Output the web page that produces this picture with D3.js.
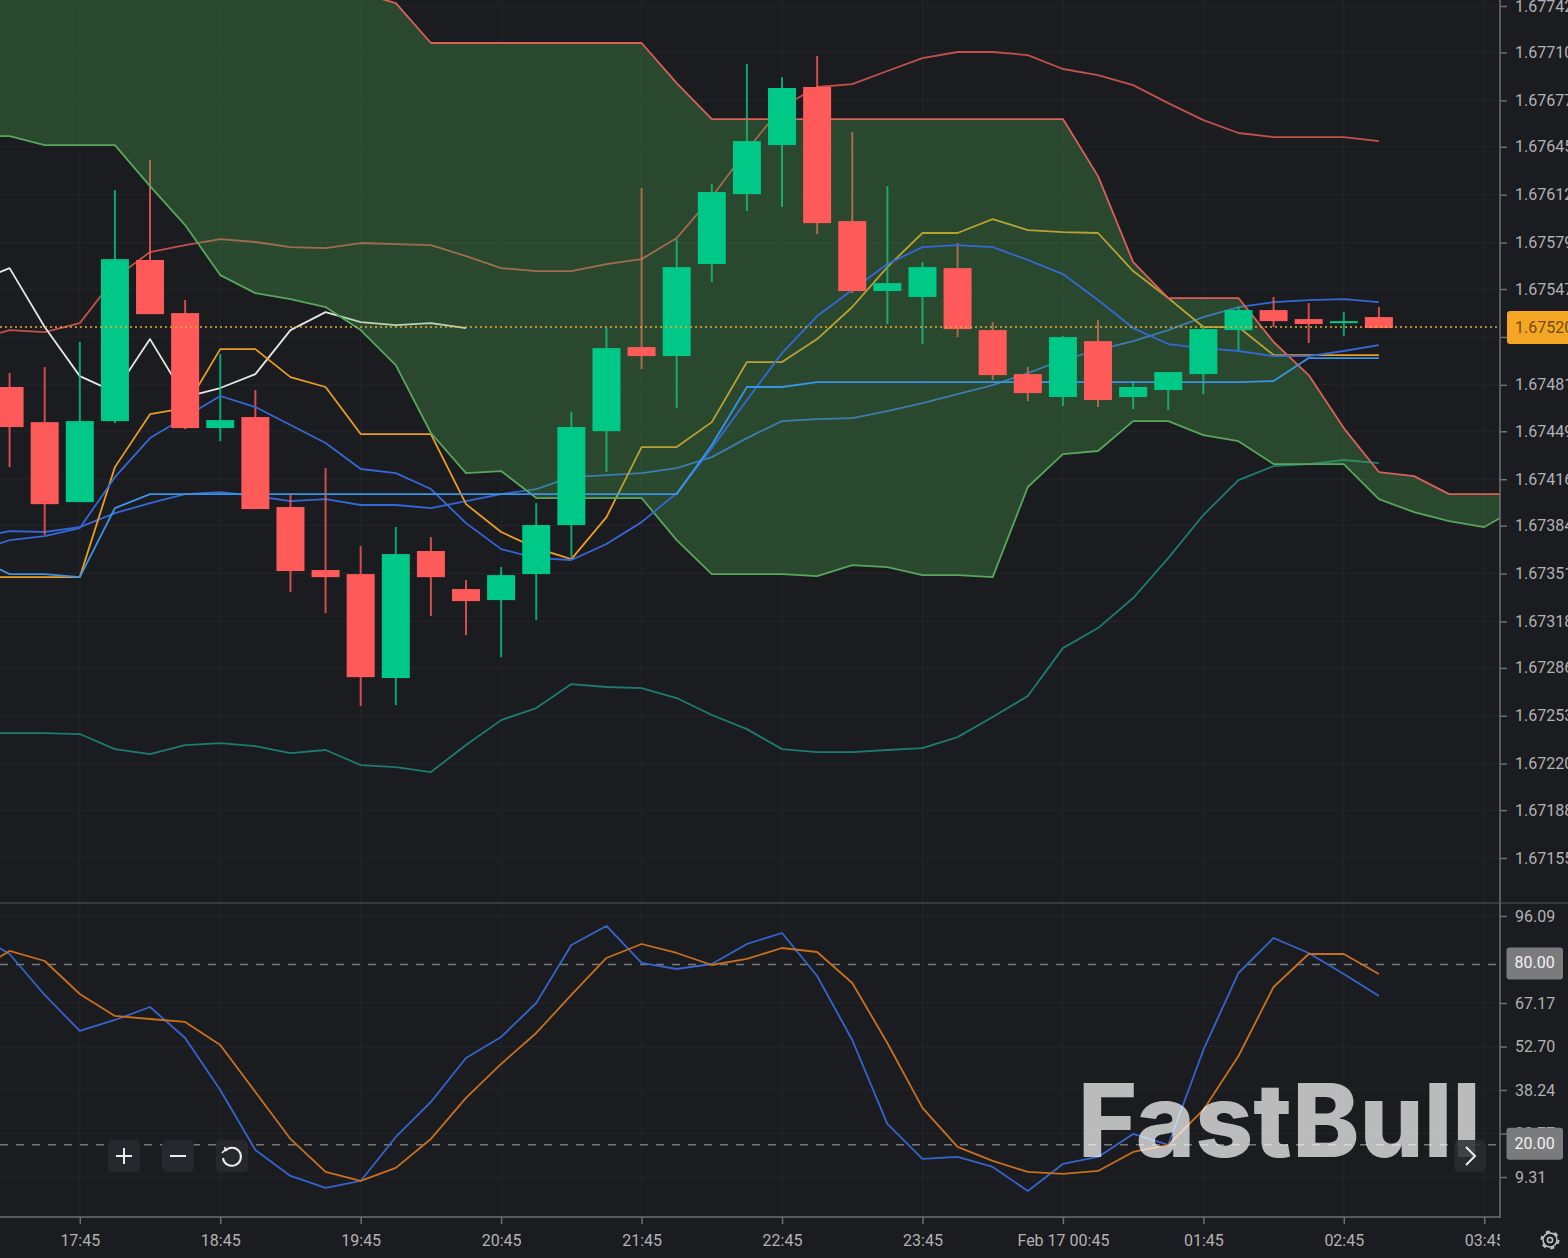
<!DOCTYPE html>
<html>
<head>
<meta charset="utf-8">
<script src="https://cdn.jsdelivr.net/npm/d3@7"></script>
<style>
  html, body { margin: 0; padding: 0; background: #1b1c20; overflow: hidden; }
  svg { display: block; }
  text { font-family: Roboto, "Noto Sans", sans-serif; }
</style>
</head>
<body>
<script>
// 15 minute bars. line series start one bar left of the first visible candle
var firstBar = Date.UTC(2023, 1, 16, 17, 0);
var barMs = 15 * 60 * 1000;

var openPrices = [1.674795,1.674553,1.674002,1.674560,1.675670,1.675304,1.674512,1.674588,1.673968,1.673534,
  1.673506,1.672790,1.673665,1.673403,1.673327,1.673506,1.673844,1.674491,1.675070,1.675008,
  1.675642,1.676124,1.676462,1.676862,1.675938,1.675456,1.675415,1.675614,1.675187,1.674884,
  1.674726,1.675111,1.674726,1.674774,1.674884,1.675187,1.675325,1.675263,1.675235,1.675277];
var closePrices = [1.674519,1.673988,1.674560,1.675676,1.675297,1.674512,1.674567,1.673954,1.673527,1.673485,
  1.672796,1.673644,1.673485,1.673320,1.673499,1.673844,1.674519,1.675063,1.675008,1.675621,
  1.676138,1.676489,1.676855,1.675924,1.675456,1.675511,1.675621,1.675194,1.674877,1.674753,
  1.675139,1.674705,1.674795,1.674898,1.675194,1.675325,1.675249,1.675229,1.675249,1.675201];
var highPrices = [1.674891,1.674932,1.675105,1.676152,1.676359,1.675394,1.675022,1.674774,1.674050,1.674236,
  1.673699,1.673830,1.673761,1.673465,1.673554,1.673995,1.674622,1.675201,1.676166,1.675814,
  1.676193,1.677020,1.676930,1.677075,1.676551,1.676179,1.675656,1.675787,1.675242,1.674932,
  1.675146,1.675256,1.674836,1.674898,1.675208,1.675346,1.675415,1.675373,1.675311,1.675346];
var lowPrices = [1.674243,1.673775,1.674002,1.674546,1.675297,1.674505,1.674422,1.673954,1.673382,1.673237,
  1.672597,1.672603,1.673217,1.673086,1.672934,1.673189,1.673623,1.674209,1.674919,1.674650,
  1.675518,1.676007,1.676035,1.675849,1.675442,1.675229,1.675091,1.675139,1.674843,1.674698,
  1.674664,1.674657,1.674643,1.674636,1.674746,1.675043,1.675208,1.675098,1.675146,1.675201];

var bollUpper = [1.675118,1.675187,1.675173,1.675235,1.675546,1.675725,1.675773,1.675814,1.675794,1.675759,1.675752,
  1.675787,1.675780,1.675773,1.675697,1.675614,1.675594,1.675594,1.675642,1.675676,1.675821,
  1.676104,1.676428,1.676724,1.676862,1.676882,1.676972,1.677061,1.677103,1.677103,1.677082,
  1.676986,1.676944,1.676875,1.676751,1.676634,1.676545,1.676517,1.676517,1.676517,1.676489];
var bollLower = [1.672411,1.672411,1.672411,1.672404,1.672300,1.672266,1.672328,1.672342,1.672321,1.672273,1.672294,
  1.672190,1.672176,1.672142,1.672328,1.672500,1.672583,1.672748,1.672728,1.672721,1.672652,
  1.672535,1.672438,1.672300,1.672280,1.672280,1.672294,1.672307,1.672383,1.672521,1.672666,
  1.672996,1.673134,1.673341,1.673616,1.673913,1.674154,1.674250,1.674264,1.674292,1.674271];
var bollMid = [1.673658,1.673740,1.673768,1.673823,1.674174,1.674443,1.674588,1.674733,1.674657,1.674533,1.674409,
  1.674230,1.674202,1.674092,1.673857,1.673678,1.673616,1.673603,1.673713,1.673864,1.674064,
  1.674374,1.674705,1.675029,1.675284,1.675463,1.675642,1.675759,1.675773,1.675759,1.675670,
  1.675573,1.675394,1.675201,1.675091,1.675063,1.675043,1.675008,1.675008,1.675043,1.675084];
var maLine = [1.673754,1.673802,1.673796,1.673830,1.673926,1.673995,1.674057,1.674071,1.674044,1.674009,1.674023,
  1.673982,1.673982,1.673961,1.674009,1.674057,1.674092,1.674174,1.674188,1.674202,1.674236,
  1.674312,1.674443,1.674560,1.674574,1.674581,1.674629,1.674684,1.674746,1.674808,1.674891,
  1.674981,1.675050,1.675111,1.675187,1.675277,1.675346,1.675380,1.675394,1.675401,1.675380];

var tenkan = [1.673485,1.673485,1.673485,1.673485,1.674243,1.674608,1.674650,1.675056,1.675056,1.674863,1.674795,
  1.674471,1.674471,1.674471,1.673988,1.673796,1.673685,1.673609,1.673899,1.674381,1.674381,
  1.674553,1.674967,1.674967,1.675125,1.675346,1.675621,1.675856,1.675856,1.675952,1.675876,
  1.675862,1.675856,1.675594,1.675408,1.675208,1.675208,1.675015,1.675015,1.675015,1.675015];
var kijun = [1.673623,1.673506,1.673506,1.673485,1.673961,1.674057,1.674057,1.674057,1.674057,1.674057,1.674057,
  1.674057,1.674057,1.674057,1.674057,1.674057,1.674057,1.674057,1.674057,1.674057,1.674057,
  1.674395,1.674795,1.674795,1.674829,1.674829,1.674829,1.674829,1.674829,1.674829,1.674829,
  1.674829,1.674829,1.674829,1.674829,1.674829,1.674829,1.674836,1.674994,1.674994,1.674994];
var chikou = [1.675518,1.675614,1.675208,1.674870,1.674760,1.675125,1.674726,1.674788,1.674884,1.675187,1.675311,
  1.675242,1.675222,1.675235,1.675201];
var cloudUpper = [1.677509,1.677509,1.677509,1.677509,1.677509,1.677509,1.677509,1.677509,1.677509,1.677509,1.677509,1.677509,
  1.677440,1.677165,1.677165,1.677165,1.677165,1.677165,1.677165,1.677165,1.676889,
  1.676641,1.676641,1.676641,1.676641,1.676641,1.676641,1.676641,1.676641,1.676641,1.676641,1.676641,
  1.676248,1.675656,1.675408,1.675408,1.675408,1.675105,1.674877,1.674512,1.674209,
  1.674181,1.674057,1.674057,1.674057];
var cloudLower = [1.676524,1.676524,1.676462,1.676462,1.676462,1.676179,1.675911,1.675566,1.675442,1.675401,1.675346,
  1.675187,1.674946,1.674478,1.674202,1.674216,1.674030,1.674030,1.674030,1.674030,1.673740,
  1.673506,1.673506,1.673506,1.673492,1.673568,1.673554,1.673499,1.673499,1.673485,1.674106,
  1.674333,1.674354,1.674560,1.674560,1.674464,1.674422,1.674264,1.674264,1.674264,1.674023,
  1.673933,1.673871,1.673830,1.673968];

var stochK = [90.44,83.46,69.83,57.86,61.52,65.84,55.54,38.25,18.31,9.67,5.68,
  8.00,22.63,34.26,48.89,55.87,67.17,86.45,92.77,80.47,78.47,
  80.13,86.78,90.44,76.15,54.87,26.95,15.32,15.98,12.66,4.68,
  13.65,15.98,23.63,19.97,51.55,77.14,88.78,83.79,76.81,69.50];
var stochD = [77.48,84.46,81.13,70.16,62.85,61.85,60.86,53.21,37.59,21.96,11.00,
  8.00,12.33,21.96,35.59,46.89,57.20,69.83,82.13,86.78,83.79,
  79.80,81.80,85.45,84.12,73.82,53.88,32.27,19.31,14.65,11.00,
  10.33,11.33,17.64,19.97,31.60,49.55,72.49,83.46,83.46,76.81];

var priceTicks = [1.67742,1.67710,1.67677,1.67645,1.67612,1.67579,1.67547,1.67514,1.67481,1.67449,
  1.67416,1.67384,1.67351,1.67318,1.67286,1.67253,1.67220,1.67188,1.67155];
var stochTicks = [96.09,67.17,52.70,38.24,23.77,9.31];
var stochLevels = [80, 20];
var lastPrice = 1.675208;
var lastPriceLabel = "1.67520";
var timeTickBars = [3,7,11,15,19,23,27,31,35,39,43];
var timeLabels = ["17:45","18:45","19:45","20:45","21:45","22:45","23:45","Feb 17 00:45","01:45","02:45","03:45"];

var svgW = 1568, svgH = 1258;
var plotRight = 1500, mainBottom = 903, stochBottom = 1217;
var bg = "#1b1c20", gridCol = "#24252a", axisCol = "#6e6f73", labelCol = "#b2b2b2";

function barTime(i) { return new Date(firstBar + i * barMs); }

var x = d3.scaleUtc().domain([barTime(3), barTime(39)]).range([79.8, 1343.8]);
var y = d3.scaleLinear().domain([1.67742, 1.67155]).range([6, 858]);
var yStoch = d3.scaleLinear().domain([96.09, 9.31]).range([916, 1177]);

var svg = d3.select("body").append("svg").attr("width", svgW).attr("height", svgH);
svg.append("rect").attr("width", svgW).attr("height", svgH).attr("fill", bg);

var defs = svg.append("defs");
defs.append("clipPath").attr("id", "mainClip").append("rect").attr("width", plotRight).attr("height", mainBottom);
defs.append("clipPath").attr("id", "stochClip").append("rect").attr("y", mainBottom).attr("width", plotRight).attr("height", stochBottom - mainBottom);
defs.append("clipPath").attr("id", "timeClip").append("rect").attr("y", stochBottom).attr("width", plotRight).attr("height", svgH - stochBottom);

var timeTicks = timeTickBars.map(barTime);

// faint grid
var grid = svg.append("g").attr("stroke", gridCol).attr("stroke-width", 1);
grid.selectAll("line.v").data(timeTicks).enter().append("line").attr("class", "v")
  .attr("x1", function(d) { return x(d); }).attr("x2", function(d) { return x(d); })
  .attr("y1", 0).attr("y2", stochBottom);
grid.selectAll("line.h").data(priceTicks).enter().append("line").attr("class", "h")
  .attr("x1", 0).attr("x2", plotRight)
  .attr("y1", function(d) { return y(d); }).attr("y2", function(d) { return y(d); });
grid.selectAll("line.s").data(stochTicks).enter().append("line").attr("class", "s")
  .attr("x1", 0).attr("x2", plotRight)
  .attr("y1", function(d) { return yStoch(d); }).attr("y2", function(d) { return yStoch(d); });

var mainG = svg.append("g").attr("clip-path", "url(#mainClip)");

function lineOf(values, scale) {
  return d3.line()
    .x(function(d, i) { return x(barTime(i)); })
    .y(function(d) { return scale(d); })(values);
}
function drawLine(g, values, scale, col, w) {
  g.append("path").attr("d", lineOf(values, scale)).attr("fill", "none")
    .attr("stroke", col).attr("stroke-width", w || 1.8).attr("stroke-linejoin", "round");
}

// these sit under the cloud, that is why they get tinted inside it
drawLine(mainG, bollUpper, y, "#c4504c");
drawLine(mainG, bollLower, y, "#1d7c70");
drawLine(mainG, chikou, y, "#e6e6e6");
drawLine(mainG, maLine, y, "#3468d8");
drawLine(mainG, tenkan, y, "#ea9c25");

var upCol = "#00c987", downCol = "#ff5a5a";
var bars = d3.range(openPrices.length);
function barCol(i) { return closePrices[i] >= openPrices[i] ? upCol : downCol; }
function barX(i) { return x(barTime(i + 1)); }

mainG.selectAll("line.wick").data(bars).enter().append("line").attr("class", "wick")
  .attr("x1", barX).attr("x2", barX)
  .attr("y1", function(i) { return y(highPrices[i]); })
  .attr("y2", function(i) { return y(lowPrices[i]); })
  .attr("stroke", barCol).attr("stroke-width", 2).attr("stroke-opacity", 0.8);

var cloudBars = d3.range(cloudUpper.length);
mainG.append("path")
  .attr("d", d3.area()
    .x(function(i) { return x(barTime(i)); })
    .y0(function(i) { return y(cloudUpper[i]); })
    .y1(function(i) { return y(cloudLower[i]); })(cloudBars))
  .attr("fill", "rgba(76,175,80,0.3)");
drawLine(mainG, cloudUpper, y, "#dc5f5a");
drawLine(mainG, cloudLower, y, "#58a65b");
drawLine(mainG, bollMid, y, "#3468d8");
drawLine(mainG, kijun, y, "#3a94e4");

var bodyW = 28;
mainG.selectAll("rect.body").data(bars).enter().append("rect").attr("class", "body")
  .attr("x", function(i) { return barX(i) - bodyW / 2; })
  .attr("width", bodyW)
  .attr("y", function(i) { return y(Math.max(openPrices[i], closePrices[i])); })
  .attr("height", function(i) { return Math.max(1.5, Math.abs(y(openPrices[i]) - y(closePrices[i]))); })
  .attr("fill", barCol);

mainG.append("line").attr("x1", 0).attr("x2", plotRight)
  .attr("y1", y(lastPrice)).attr("y2", y(lastPrice))
  .attr("stroke", "#e8a93a").attr("stroke-width", 1.5).attr("stroke-dasharray", "2 3");

// stochastic pane
var stochG = svg.append("g").attr("clip-path", "url(#stochClip)");
stochG.selectAll("line.level").data(stochLevels).enter().append("line").attr("class", "level")
  .attr("x1", 0).attr("x2", plotRight)
  .attr("y1", function(d) { return yStoch(d); }).attr("y2", function(d) { return yStoch(d); })
  .attr("stroke", "#77787b").attr("stroke-width", 1.5).attr("stroke-dasharray", "8 8");
drawLine(stochG, stochK, yStoch, "#3565cc");
drawLine(stochG, stochD, yStoch, "#c9701f");

// axes
function styleAxis(g) {
  g.select(".domain").remove();
  g.selectAll(".tick line").attr("stroke", axisCol).attr("stroke-width", 1.5);
  g.selectAll(".tick text").attr("fill", labelCol).style("font-size", "16px").style("font-family", "Roboto, sans-serif");
}
var priceAxis = d3.axisRight(y).tickValues(priceTicks).tickSize(7).tickPadding(8).tickFormat(d3.format(".5f"));
svg.append("g").attr("transform", "translate(" + plotRight + ",0)").call(priceAxis).call(styleAxis);

var stochAxis = d3.axisRight(yStoch).tickValues(stochTicks).tickSize(7).tickPadding(8).tickFormat(d3.format(".2f"));
svg.append("g").attr("transform", "translate(" + plotRight + ",0)").call(stochAxis).call(styleAxis);

var timeAxis = d3.axisBottom(x).tickValues(timeTicks).tickSize(7).tickPadding(11)
  .tickFormat(function(d, i) { return timeLabels[i]; });
svg.append("g").attr("clip-path", "url(#timeClip)")
  .append("g").attr("transform", "translate(0," + stochBottom + ")").call(timeAxis).call(styleAxis);

svg.append("line").attr("x1", plotRight).attr("x2", plotRight).attr("y1", 0).attr("y2", stochBottom + 1)
  .attr("stroke", axisCol).attr("stroke-width", 1.5);
svg.append("line").attr("x1", 0).attr("x2", plotRight).attr("y1", stochBottom).attr("y2", stochBottom)
  .attr("stroke", axisCol).attr("stroke-width", 1.5);
svg.append("line").attr("x1", 0).attr("x2", svgW).attr("y1", mainBottom).attr("y2", mainBottom)
  .attr("stroke", "#55565a").attr("stroke-width", 1);

// value badges on the right
var lastY = y(lastPrice);
svg.append("rect").attr("x", 1507).attr("y", lastY - 16).attr("width", 70).attr("height", 33).attr("rx", 3).attr("fill", "#f5a623");
svg.append("text").attr("x", 1515).attr("y", lastY + 6).attr("fill", "#6e4c12").style("font-size", "16px").text(lastPriceLabel);

svg.selectAll("rect.badge").data(stochLevels).enter().append("rect").attr("class", "badge")
  .attr("x", 1506.5).attr("width", 56.5).attr("height", 32).attr("rx", 3)
  .attr("y", function(d) { return yStoch(d) - 17; })
  .attr("fill", "#7b7b7d");
svg.selectAll("text.badge").data(stochLevels).enter().append("text").attr("class", "badge")
  .attr("x", 1514.5)
  .attr("y", function(d) { return yStoch(d) + 4; })
  .attr("fill", "#f2f2f2").style("font-size", "16px").text(d3.format(".2f"));

// watermark
svg.append("text").attr("x", 1078).attr("y", 1157)
  .attr("textLength", 403).attr("lengthAdjust", "spacingAndGlyphs")
  .attr("fill", "#ffffff").attr("fill-opacity", 0.7)
  .style("font-family", "Inter, sans-serif").style("font-weight", 800).style("font-size", "102px")
  .text("FastBull");

// zoom buttons
function button(cx, cy) {
  var g = svg.append("g").attr("transform", "translate(" + cx + "," + cy + ")")
    .attr("fill", "none").attr("stroke", "#ececec").attr("stroke-width", 2);
  g.append("rect").attr("x", -16).attr("y", -16).attr("width", 32).attr("height", 32).attr("rx", 5)
    .attr("fill", "#27282d").attr("stroke", "none");
  return g;
}
var plus = button(124, 1156);
plus.append("path").attr("d", "M-8,0H8M0,-8V8");
var minus = button(178, 1156);
minus.append("path").attr("d", "M-8,0H8");
var reset = button(232, 1156);
reset.append("path").attr("d", "M-7,-5A9,9 0 1 1 -9,2");
reset.append("path").attr("d", "M-10,-3L-7,-6L-7,-9").attr("stroke-width", 1.6);
var next = button(1470, 1156);
next.select("rect").attr("fill", "#2a2b2f").attr("fill-opacity", 0.85);
next.append("path").attr("d", "M-4,-9L5,0L-4,9");

// settings gear
var gear = svg.append("g").attr("transform", "translate(1550,1240)").attr("fill", "none").attr("stroke", "#c4c4c4");
gear.append("circle").attr("r", 7).attr("stroke-width", 1.5);
gear.append("circle").attr("r", 8.5).attr("stroke-width", 2).attr("stroke-dasharray", "4 4.9");
gear.append("circle").attr("r", 2.6).attr("stroke-width", 1.5);
</script>
</body>
</html>
